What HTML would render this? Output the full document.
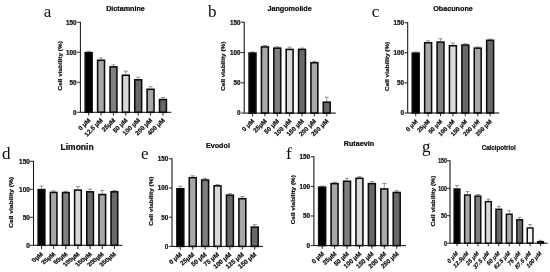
<!DOCTYPE html>
<html><head><meta charset="utf-8"><title>Cell viability</title>
<style>html,body{margin:0;padding:0;background:#fff;}body{width:550px;height:272px;overflow:hidden;}svg{display:block;}</style>
</head><body>
<svg width="550" height="272" viewBox="0 0 550 272">
<defs><filter id="soft" x="-5%" y="-5%" width="110%" height="110%"><feGaussianBlur stdDeviation="0.3"/></filter></defs>
<g filter="url(#soft)">
<g><text transform="translate(43.8 16.5)" font-family='"Liberation Serif", "Times New Roman", serif' font-size="17" text-anchor="start" fill="#0a0a0a">a</text>
<text transform="translate(125.5 11.3)" font-family='"Liberation Sans", Arial, sans-serif' font-weight="bold" font-size="7.2" text-anchor="middle" fill="#0a0a0a" stroke="#0a0a0a" stroke-width="0.2">Dictamnine</text>
<path d="M88.67 51.88V51.4M86.58 51.4H90.77" stroke="#444" stroke-width="0.55" fill="none"/>
<rect x="85.23" y="52.65" width="6.9" height="59.65" fill="#000000" stroke="#0a0a0a" stroke-width="1.55"/>
<path d="M88.67 112.3V115.5" stroke="#0a0a0a" stroke-width="0.9"/>
<text transform="translate(90.88 120.7) rotate(-45)" font-family='"Liberation Sans", Arial, sans-serif' font-weight="bold" font-size="6.3" text-anchor="end" fill="#0a0a0a" stroke="#0a0a0a" stroke-width="0.2">0 μM</text>
<path d="M101.05 59.5V58M98.95 58H103.15" stroke="#444" stroke-width="0.55" fill="none"/>
<rect x="97.61" y="60.27" width="6.9" height="52.02" fill="#a8a8a8" stroke="#0a0a0a" stroke-width="1.55"/>
<path d="M101.05 112.3V115.5" stroke="#0a0a0a" stroke-width="0.9"/>
<text transform="translate(103.25 120.7) rotate(-45)" font-family='"Liberation Sans", Arial, sans-serif' font-weight="bold" font-size="6.3" text-anchor="end" fill="#0a0a0a" stroke="#0a0a0a" stroke-width="0.2">12.5 μM</text>
<path d="M113.44 66.1V64.9M111.34 64.9H115.53" stroke="#444" stroke-width="0.55" fill="none"/>
<rect x="109.99" y="66.88" width="6.9" height="45.43" fill="#7f7f7f" stroke="#0a0a0a" stroke-width="1.55"/>
<path d="M113.44 112.3V115.5" stroke="#0a0a0a" stroke-width="0.9"/>
<text transform="translate(115.64 120.7) rotate(-45)" font-family='"Liberation Sans", Arial, sans-serif' font-weight="bold" font-size="6.3" text-anchor="end" fill="#0a0a0a" stroke="#0a0a0a" stroke-width="0.2">25μM</text>
<path d="M125.81 74.5V71.2M123.72 71.2H127.91" stroke="#444" stroke-width="0.55" fill="none"/>
<rect x="122.37" y="75.28" width="6.9" height="37.02" fill="#d9d9d9" stroke="#0a0a0a" stroke-width="1.55"/>
<path d="M125.81 112.3V115.5" stroke="#0a0a0a" stroke-width="0.9"/>
<text transform="translate(128.01 120.7) rotate(-45)" font-family='"Liberation Sans", Arial, sans-serif' font-weight="bold" font-size="6.3" text-anchor="end" fill="#0a0a0a" stroke="#0a0a0a" stroke-width="0.2">50 μM</text>
<path d="M138.19 79V77.2M136.09 77.2H140.29" stroke="#444" stroke-width="0.55" fill="none"/>
<rect x="134.75" y="79.78" width="6.9" height="32.52" fill="#686868" stroke="#0a0a0a" stroke-width="1.55"/>
<path d="M138.19 112.3V115.5" stroke="#0a0a0a" stroke-width="0.9"/>
<text transform="translate(140.39 120.7) rotate(-45)" font-family='"Liberation Sans", Arial, sans-serif' font-weight="bold" font-size="6.3" text-anchor="end" fill="#0a0a0a" stroke="#0a0a0a" stroke-width="0.2">100 μM</text>
<path d="M150.58 88.54V86.74M148.48 86.74H152.68" stroke="#444" stroke-width="0.55" fill="none"/>
<rect x="147.13" y="89.31" width="6.9" height="22.99" fill="#a8a8a8" stroke="#0a0a0a" stroke-width="1.55"/>
<path d="M150.58 112.3V115.5" stroke="#0a0a0a" stroke-width="0.9"/>
<text transform="translate(152.78 120.7) rotate(-45)" font-family='"Liberation Sans", Arial, sans-serif' font-weight="bold" font-size="6.3" text-anchor="end" fill="#0a0a0a" stroke="#0a0a0a" stroke-width="0.2">200 μM</text>
<path d="M162.96 98.8V97.6M160.86 97.6H165.06" stroke="#444" stroke-width="0.55" fill="none"/>
<rect x="159.51" y="99.58" width="6.9" height="12.72" fill="#686868" stroke="#0a0a0a" stroke-width="1.55"/>
<path d="M162.96 112.3V115.5" stroke="#0a0a0a" stroke-width="0.9"/>
<text transform="translate(165.16 120.7) rotate(-45)" font-family='"Liberation Sans", Arial, sans-serif' font-weight="bold" font-size="6.3" text-anchor="end" fill="#0a0a0a" stroke="#0a0a0a" stroke-width="0.2">400 μM</text>
<path d="M80.4 21.85V112.3H171.3" stroke="#0a0a0a" stroke-width="1" fill="none"/>
<path d="M77.2 112.3H80.4" stroke="#0a0a0a" stroke-width="0.9"/>
<text transform="translate(76.6 114.67)" font-family='"Liberation Sans", Arial, sans-serif' font-weight="bold" font-size="6.3" text-anchor="end" fill="#0a0a0a" stroke="#0a0a0a" stroke-width="0.2">0</text>
<path d="M77.2 82.3H80.4" stroke="#0a0a0a" stroke-width="0.9"/>
<text transform="translate(76.6 84.67)" font-family='"Liberation Sans", Arial, sans-serif' font-weight="bold" font-size="6.3" text-anchor="end" fill="#0a0a0a" stroke="#0a0a0a" stroke-width="0.2">50</text>
<path d="M77.2 52.3H80.4" stroke="#0a0a0a" stroke-width="0.9"/>
<text transform="translate(76.6 54.67)" font-family='"Liberation Sans", Arial, sans-serif' font-weight="bold" font-size="6.3" text-anchor="end" fill="#0a0a0a" stroke="#0a0a0a" stroke-width="0.2">100</text>
<path d="M77.2 22.3H80.4" stroke="#0a0a0a" stroke-width="0.9"/>
<text transform="translate(76.6 24.67)" font-family='"Liberation Sans", Arial, sans-serif' font-weight="bold" font-size="6.3" text-anchor="end" fill="#0a0a0a" stroke="#0a0a0a" stroke-width="0.2">150</text>
<text transform="translate(61.5 65.8) scale(0.78 1) rotate(-90)" font-family='"Liberation Sans", Arial, sans-serif' font-weight="bold" font-size="6.43" text-anchor="middle" fill="#0a0a0a" stroke="#0a0a0a" stroke-width="0.2">Cell viability (%)</text></g>
<g><text transform="translate(208 16.5)" font-family='"Liberation Serif", "Times New Roman", serif' font-size="17" text-anchor="start" fill="#0a0a0a">b</text>
<text transform="translate(289.6 11.3)" font-family='"Liberation Sans", Arial, sans-serif' font-weight="bold" font-size="7.2" text-anchor="middle" fill="#0a0a0a" stroke="#0a0a0a" stroke-width="0.2">Jangomolide</text>
<path d="M252.53 52.26V51.96M250.43 51.96H254.62" stroke="#444" stroke-width="0.55" fill="none"/>
<rect x="249.08" y="53.04" width="6.9" height="60.06" fill="#000000" stroke="#0a0a0a" stroke-width="1.55"/>
<path d="M252.53 113.1V116.3" stroke="#0a0a0a" stroke-width="0.9"/>
<text transform="translate(254.72 121.5) rotate(-45)" font-family='"Liberation Sans", Arial, sans-serif' font-weight="bold" font-size="6.3" text-anchor="end" fill="#0a0a0a" stroke="#0a0a0a" stroke-width="0.2">0 μM</text>
<path d="M264.9 46.15V45.54M262.8 45.54H267" stroke="#444" stroke-width="0.55" fill="none"/>
<rect x="261.44" y="46.93" width="6.9" height="66.17" fill="#a8a8a8" stroke="#0a0a0a" stroke-width="1.55"/>
<path d="M264.9 113.1V116.3" stroke="#0a0a0a" stroke-width="0.9"/>
<text transform="translate(267.1 121.5) rotate(-45)" font-family='"Liberation Sans", Arial, sans-serif' font-weight="bold" font-size="6.3" text-anchor="end" fill="#0a0a0a" stroke="#0a0a0a" stroke-width="0.2">25μM</text>
<path d="M277.27 47.36V46.76M275.17 46.76H279.37" stroke="#444" stroke-width="0.55" fill="none"/>
<rect x="273.81" y="48.14" width="6.9" height="64.96" fill="#7f7f7f" stroke="#0a0a0a" stroke-width="1.55"/>
<path d="M277.27 113.1V116.3" stroke="#0a0a0a" stroke-width="0.9"/>
<text transform="translate(279.47 121.5) rotate(-45)" font-family='"Liberation Sans", Arial, sans-serif' font-weight="bold" font-size="6.3" text-anchor="end" fill="#0a0a0a" stroke="#0a0a0a" stroke-width="0.2">50 μM</text>
<path d="M289.64 48.63V47.12M287.54 47.12H291.74" stroke="#444" stroke-width="0.55" fill="none"/>
<rect x="286.19" y="49.41" width="6.9" height="63.69" fill="#d9d9d9" stroke="#0a0a0a" stroke-width="1.55"/>
<path d="M289.64 113.1V116.3" stroke="#0a0a0a" stroke-width="0.9"/>
<text transform="translate(291.84 121.5) rotate(-45)" font-family='"Liberation Sans", Arial, sans-serif' font-weight="bold" font-size="6.3" text-anchor="end" fill="#0a0a0a" stroke="#0a0a0a" stroke-width="0.2">100 μM</text>
<path d="M302.01 48.63V48.03M299.91 48.03H304.11" stroke="#444" stroke-width="0.55" fill="none"/>
<rect x="298.56" y="49.41" width="6.9" height="63.69" fill="#686868" stroke="#0a0a0a" stroke-width="1.55"/>
<path d="M302.01 113.1V116.3" stroke="#0a0a0a" stroke-width="0.9"/>
<text transform="translate(304.21 121.5) rotate(-45)" font-family='"Liberation Sans", Arial, sans-serif' font-weight="bold" font-size="6.3" text-anchor="end" fill="#0a0a0a" stroke="#0a0a0a" stroke-width="0.2">150 μM</text>
<path d="M314.38 61.95V61.34M312.27 61.34H316.48" stroke="#444" stroke-width="0.55" fill="none"/>
<rect x="310.92" y="62.72" width="6.9" height="50.38" fill="#a8a8a8" stroke="#0a0a0a" stroke-width="1.55"/>
<path d="M314.38 113.1V116.3" stroke="#0a0a0a" stroke-width="0.9"/>
<text transform="translate(316.57 121.5) rotate(-45)" font-family='"Liberation Sans", Arial, sans-serif' font-weight="bold" font-size="6.3" text-anchor="end" fill="#0a0a0a" stroke="#0a0a0a" stroke-width="0.2">200 μM</text>
<path d="M326.75 101.42V97.18M324.64 97.18H328.85" stroke="#444" stroke-width="0.55" fill="none"/>
<rect x="323.29" y="102.19" width="6.9" height="10.91" fill="#686868" stroke="#0a0a0a" stroke-width="1.55"/>
<path d="M326.75 113.1V116.3" stroke="#0a0a0a" stroke-width="0.9"/>
<text transform="translate(328.94 121.5) rotate(-45)" font-family='"Liberation Sans", Arial, sans-serif' font-weight="bold" font-size="6.3" text-anchor="end" fill="#0a0a0a" stroke="#0a0a0a" stroke-width="0.2">250 μM</text>
<path d="M244.2 21.85V113.1H335.8" stroke="#0a0a0a" stroke-width="1" fill="none"/>
<path d="M241 113.1H244.2" stroke="#0a0a0a" stroke-width="0.9"/>
<text transform="translate(240.4 115.47)" font-family='"Liberation Sans", Arial, sans-serif' font-weight="bold" font-size="6.3" text-anchor="end" fill="#0a0a0a" stroke="#0a0a0a" stroke-width="0.2">0</text>
<path d="M241 82.83H244.2" stroke="#0a0a0a" stroke-width="0.9"/>
<text transform="translate(240.4 85.2)" font-family='"Liberation Sans", Arial, sans-serif' font-weight="bold" font-size="6.3" text-anchor="end" fill="#0a0a0a" stroke="#0a0a0a" stroke-width="0.2">50</text>
<path d="M241 52.57H244.2" stroke="#0a0a0a" stroke-width="0.9"/>
<text transform="translate(240.4 54.93)" font-family='"Liberation Sans", Arial, sans-serif' font-weight="bold" font-size="6.3" text-anchor="end" fill="#0a0a0a" stroke="#0a0a0a" stroke-width="0.2">100</text>
<path d="M241 22.3H244.2" stroke="#0a0a0a" stroke-width="0.9"/>
<text transform="translate(240.4 24.67)" font-family='"Liberation Sans", Arial, sans-serif' font-weight="bold" font-size="6.3" text-anchor="end" fill="#0a0a0a" stroke="#0a0a0a" stroke-width="0.2">150</text>
<text transform="translate(225.3 66.2) scale(0.78 1) rotate(-90)" font-family='"Liberation Sans", Arial, sans-serif' font-weight="bold" font-size="6.43" text-anchor="middle" fill="#0a0a0a" stroke="#0a0a0a" stroke-width="0.2">Cell viability (%)</text></g>
<g><text transform="translate(371.8 16.5)" font-family='"Liberation Serif", "Times New Roman", serif' font-size="17" text-anchor="start" fill="#0a0a0a">c</text>
<text transform="translate(453 11.3)" font-family='"Liberation Sans", Arial, sans-serif' font-weight="bold" font-size="7.2" text-anchor="middle" fill="#0a0a0a" stroke="#0a0a0a" stroke-width="0.2">Obacunone</text>
<path d="M415.73 52.32V52.02M413.62 52.02H417.83" stroke="#444" stroke-width="0.55" fill="none"/>
<rect x="412.27" y="53.09" width="6.9" height="59.91" fill="#000000" stroke="#0a0a0a" stroke-width="1.55"/>
<path d="M415.73 113V116.2" stroke="#0a0a0a" stroke-width="0.9"/>
<text transform="translate(417.93 122) rotate(-45)" font-family='"Liberation Sans", Arial, sans-serif' font-weight="bold" font-size="6" text-anchor="end" fill="#0a0a0a" stroke="#0a0a0a" stroke-width="0.2">0 μM</text>
<path d="M428.12 41.96V40.76M426.02 40.76H430.23" stroke="#444" stroke-width="0.55" fill="none"/>
<rect x="424.67" y="42.74" width="6.9" height="70.26" fill="#a8a8a8" stroke="#0a0a0a" stroke-width="1.55"/>
<path d="M428.12 113V116.2" stroke="#0a0a0a" stroke-width="0.9"/>
<text transform="translate(430.32 122) rotate(-45)" font-family='"Liberation Sans", Arial, sans-serif' font-weight="bold" font-size="6" text-anchor="end" fill="#0a0a0a" stroke="#0a0a0a" stroke-width="0.2">25μM</text>
<path d="M440.53 41.36V38.77M438.43 38.77H442.63" stroke="#444" stroke-width="0.55" fill="none"/>
<rect x="437.07" y="42.14" width="6.9" height="70.86" fill="#7f7f7f" stroke="#0a0a0a" stroke-width="1.55"/>
<path d="M440.53 113V116.2" stroke="#0a0a0a" stroke-width="0.9"/>
<text transform="translate(442.73 122) rotate(-45)" font-family='"Liberation Sans", Arial, sans-serif' font-weight="bold" font-size="6" text-anchor="end" fill="#0a0a0a" stroke="#0a0a0a" stroke-width="0.2">50 μM</text>
<path d="M452.93 44.97V43.17M450.82 43.17H455.03" stroke="#444" stroke-width="0.55" fill="none"/>
<rect x="449.47" y="45.75" width="6.9" height="67.25" fill="#d9d9d9" stroke="#0a0a0a" stroke-width="1.55"/>
<path d="M452.93 113V116.2" stroke="#0a0a0a" stroke-width="0.9"/>
<text transform="translate(455.12 122) rotate(-45)" font-family='"Liberation Sans", Arial, sans-serif' font-weight="bold" font-size="6" text-anchor="end" fill="#0a0a0a" stroke="#0a0a0a" stroke-width="0.2">100 μM</text>
<path d="M465.33 44.25V43.77M463.23 43.77H467.43" stroke="#444" stroke-width="0.55" fill="none"/>
<rect x="461.88" y="45.03" width="6.9" height="67.97" fill="#686868" stroke="#0a0a0a" stroke-width="1.55"/>
<path d="M465.33 113V116.2" stroke="#0a0a0a" stroke-width="0.9"/>
<text transform="translate(467.53 122) rotate(-45)" font-family='"Liberation Sans", Arial, sans-serif' font-weight="bold" font-size="6" text-anchor="end" fill="#0a0a0a" stroke="#0a0a0a" stroke-width="0.2">150 μM</text>
<path d="M477.73 47.38V46.9M475.62 46.9H479.83" stroke="#444" stroke-width="0.55" fill="none"/>
<rect x="474.27" y="48.16" width="6.9" height="64.84" fill="#a8a8a8" stroke="#0a0a0a" stroke-width="1.55"/>
<path d="M477.73 113V116.2" stroke="#0a0a0a" stroke-width="0.9"/>
<text transform="translate(479.93 122) rotate(-45)" font-family='"Liberation Sans", Arial, sans-serif' font-weight="bold" font-size="6" text-anchor="end" fill="#0a0a0a" stroke="#0a0a0a" stroke-width="0.2">200 μM</text>
<path d="M490.12 39.56V39.07M488.02 39.07H492.23" stroke="#444" stroke-width="0.55" fill="none"/>
<rect x="486.67" y="40.33" width="6.9" height="72.67" fill="#686868" stroke="#0a0a0a" stroke-width="1.55"/>
<path d="M490.12 113V116.2" stroke="#0a0a0a" stroke-width="0.9"/>
<text transform="translate(492.32 122) rotate(-45)" font-family='"Liberation Sans", Arial, sans-serif' font-weight="bold" font-size="6" text-anchor="end" fill="#0a0a0a" stroke="#0a0a0a" stroke-width="0.2">250 μM</text>
<path d="M407.7 22.25V113H499.3" stroke="#0a0a0a" stroke-width="1" fill="none"/>
<path d="M404.5 113H407.7" stroke="#0a0a0a" stroke-width="0.9"/>
<text transform="translate(403.9 115.37)" font-family='"Liberation Sans", Arial, sans-serif' font-weight="bold" font-size="6.3" text-anchor="end" fill="#0a0a0a" stroke="#0a0a0a" stroke-width="0.2">0</text>
<path d="M404.5 82.9H407.7" stroke="#0a0a0a" stroke-width="0.9"/>
<text transform="translate(403.9 85.27)" font-family='"Liberation Sans", Arial, sans-serif' font-weight="bold" font-size="6.3" text-anchor="end" fill="#0a0a0a" stroke="#0a0a0a" stroke-width="0.2">50</text>
<path d="M404.5 52.8H407.7" stroke="#0a0a0a" stroke-width="0.9"/>
<text transform="translate(403.9 55.17)" font-family='"Liberation Sans", Arial, sans-serif' font-weight="bold" font-size="6.3" text-anchor="end" fill="#0a0a0a" stroke="#0a0a0a" stroke-width="0.2">100</text>
<path d="M404.5 22.7H407.7" stroke="#0a0a0a" stroke-width="0.9"/>
<text transform="translate(403.9 25.07)" font-family='"Liberation Sans", Arial, sans-serif' font-weight="bold" font-size="6.3" text-anchor="end" fill="#0a0a0a" stroke="#0a0a0a" stroke-width="0.2">150</text>
<text transform="translate(388.8 66.35) scale(0.78 1) rotate(-90)" font-family='"Liberation Sans", Arial, sans-serif' font-weight="bold" font-size="6.43" text-anchor="middle" fill="#0a0a0a" stroke="#0a0a0a" stroke-width="0.2">Cell viability (%)</text></g>
<g><text transform="translate(2 159)" font-family='"Liberation Serif", "Times New Roman", serif' font-size="17" text-anchor="start" fill="#0a0a0a">d</text>
<text transform="translate(77.1 149.8)" font-family='"Liberation Sans", Arial, sans-serif' font-weight="bold" font-size="8.5" text-anchor="middle" fill="#0a0a0a" stroke="#0a0a0a" stroke-width="0.2">Limonin</text>
<path d="M41.5 188.8V186M39.4 186H43.6" stroke="#444" stroke-width="0.55" fill="none"/>
<rect x="38.17" y="189.57" width="6.65" height="55.73" fill="#000000" stroke="#0a0a0a" stroke-width="1.55"/>
<path d="M41.5 245.3V249.1" stroke="#0a0a0a" stroke-width="0.9"/>
<text transform="translate(43.8 254.7) scale(1.1 0.9) rotate(-45)" font-family='"Liberation Sans", Arial, sans-serif' font-weight="bold" font-size="6.1" text-anchor="end" fill="#0a0a0a" stroke="#0a0a0a" stroke-width="0.2">0μM</text>
<path d="M53.65 191.65V190.81M51.55 190.81H55.75" stroke="#444" stroke-width="0.55" fill="none"/>
<rect x="50.32" y="192.43" width="6.65" height="52.87" fill="#a8a8a8" stroke="#0a0a0a" stroke-width="1.55"/>
<path d="M53.65 245.3V249.1" stroke="#0a0a0a" stroke-width="0.9"/>
<text transform="translate(55.95 254.7) scale(1.1 0.9) rotate(-45)" font-family='"Liberation Sans", Arial, sans-serif' font-weight="bold" font-size="6.1" text-anchor="end" fill="#0a0a0a" stroke="#0a0a0a" stroke-width="0.2">25μM</text>
<path d="M65.8 191.82V191.26M63.7 191.26H67.9" stroke="#444" stroke-width="0.55" fill="none"/>
<rect x="62.48" y="192.59" width="6.65" height="52.71" fill="#7f7f7f" stroke="#0a0a0a" stroke-width="1.55"/>
<path d="M65.8 245.3V249.1" stroke="#0a0a0a" stroke-width="0.9"/>
<text transform="translate(68.1 254.7) scale(1.1 0.9) rotate(-45)" font-family='"Liberation Sans", Arial, sans-serif' font-weight="bold" font-size="6.1" text-anchor="end" fill="#0a0a0a" stroke="#0a0a0a" stroke-width="0.2">50μM</text>
<path d="M77.95 189.36V186.56M75.85 186.56H80.05" stroke="#444" stroke-width="0.55" fill="none"/>
<rect x="74.62" y="190.13" width="6.65" height="55.17" fill="#d9d9d9" stroke="#0a0a0a" stroke-width="1.55"/>
<path d="M77.95 245.3V249.1" stroke="#0a0a0a" stroke-width="0.9"/>
<text transform="translate(80.25 254.7) scale(1.1 0.9) rotate(-45)" font-family='"Liberation Sans", Arial, sans-serif' font-weight="bold" font-size="6.1" text-anchor="end" fill="#0a0a0a" stroke="#0a0a0a" stroke-width="0.2">100μM</text>
<path d="M90.1 191.04V189.08M88 189.08H92.2" stroke="#444" stroke-width="0.55" fill="none"/>
<rect x="86.78" y="191.81" width="6.65" height="53.49" fill="#686868" stroke="#0a0a0a" stroke-width="1.55"/>
<path d="M90.1 245.3V249.1" stroke="#0a0a0a" stroke-width="0.9"/>
<text transform="translate(92.4 254.7) scale(1.1 0.9) rotate(-45)" font-family='"Liberation Sans", Arial, sans-serif' font-weight="bold" font-size="6.1" text-anchor="end" fill="#0a0a0a" stroke="#0a0a0a" stroke-width="0.2">150μM</text>
<path d="M102.25 193.78V190.42M100.15 190.42H104.35" stroke="#444" stroke-width="0.55" fill="none"/>
<rect x="98.93" y="194.56" width="6.65" height="50.75" fill="#a8a8a8" stroke="#0a0a0a" stroke-width="1.55"/>
<path d="M102.25 245.3V249.1" stroke="#0a0a0a" stroke-width="0.9"/>
<text transform="translate(104.55 254.7) scale(1.1 0.9) rotate(-45)" font-family='"Liberation Sans", Arial, sans-serif' font-weight="bold" font-size="6.1" text-anchor="end" fill="#0a0a0a" stroke="#0a0a0a" stroke-width="0.2">200μM</text>
<path d="M114.4 191.04V190.36M112.3 190.36H116.5" stroke="#444" stroke-width="0.55" fill="none"/>
<rect x="111.08" y="191.81" width="6.65" height="53.49" fill="#686868" stroke="#0a0a0a" stroke-width="1.55"/>
<path d="M114.4 245.3V249.1" stroke="#0a0a0a" stroke-width="0.9"/>
<text transform="translate(116.7 254.7) scale(1.1 0.9) rotate(-45)" font-family='"Liberation Sans", Arial, sans-serif' font-weight="bold" font-size="6.1" text-anchor="end" fill="#0a0a0a" stroke="#0a0a0a" stroke-width="0.2">250μM</text>
<path d="M33.5 160.85V245.3H122.5" stroke="#0a0a0a" stroke-width="1" fill="none"/>
<path d="M29.7 245.3H33.5" stroke="#0a0a0a" stroke-width="0.9"/>
<text transform="translate(29.9 247.74)" font-family='"Liberation Sans", Arial, sans-serif' font-weight="bold" font-size="6.5" text-anchor="end" fill="#0a0a0a" stroke="#0a0a0a" stroke-width="0.2">0</text>
<path d="M29.7 217.3H33.5" stroke="#0a0a0a" stroke-width="0.9"/>
<text transform="translate(29.9 219.74)" font-family='"Liberation Sans", Arial, sans-serif' font-weight="bold" font-size="6.5" text-anchor="end" fill="#0a0a0a" stroke="#0a0a0a" stroke-width="0.2">50</text>
<path d="M29.7 189.3H33.5" stroke="#0a0a0a" stroke-width="0.9"/>
<text transform="translate(29.9 191.74)" font-family='"Liberation Sans", Arial, sans-serif' font-weight="bold" font-size="6.5" text-anchor="end" fill="#0a0a0a" stroke="#0a0a0a" stroke-width="0.2">100</text>
<path d="M29.7 161.3H33.5" stroke="#0a0a0a" stroke-width="0.9"/>
<text transform="translate(29.9 163.74)" font-family='"Liberation Sans", Arial, sans-serif' font-weight="bold" font-size="6.5" text-anchor="end" fill="#0a0a0a" stroke="#0a0a0a" stroke-width="0.2">150</text>
<text transform="translate(12.6 202.4) scale(0.9 1) rotate(-90)" font-family='"Liberation Sans", Arial, sans-serif' font-weight="bold" font-size="6.63" text-anchor="middle" fill="#0a0a0a" stroke="#0a0a0a" stroke-width="0.2">Cell viability (%)</text></g>
<g><text transform="translate(141 159)" font-family='"Liberation Serif", "Times New Roman", serif' font-size="17" text-anchor="start" fill="#0a0a0a">e</text>
<text transform="translate(217.9 148)" font-family='"Liberation Sans", Arial, sans-serif' font-weight="bold" font-size="7.2" text-anchor="middle" fill="#0a0a0a" stroke="#0a0a0a" stroke-width="0.2">Evodol</text>
<path d="M180.32 188V186.25M178.22 186.25H182.42" stroke="#444" stroke-width="0.55" fill="none"/>
<rect x="176.88" y="188.78" width="6.9" height="57.63" fill="#000000" stroke="#0a0a0a" stroke-width="1.55"/>
<path d="M180.32 246.4V249.6" stroke="#0a0a0a" stroke-width="0.9"/>
<text transform="translate(182.32 255.4) rotate(-39.5)" font-family='"Liberation Sans", Arial, sans-serif' font-weight="bold" font-size="6.3" text-anchor="end" fill="#0a0a0a" stroke="#0a0a0a" stroke-width="0.2">0 μM</text>
<path d="M192.72 176.9V175.74M190.62 175.74H194.82" stroke="#444" stroke-width="0.55" fill="none"/>
<rect x="189.28" y="177.68" width="6.9" height="68.72" fill="#a8a8a8" stroke="#0a0a0a" stroke-width="1.55"/>
<path d="M192.72 246.4V249.6" stroke="#0a0a0a" stroke-width="0.9"/>
<text transform="translate(194.72 255.4) rotate(-39.5)" font-family='"Liberation Sans", Arial, sans-serif' font-weight="bold" font-size="6.3" text-anchor="end" fill="#0a0a0a" stroke="#0a0a0a" stroke-width="0.2">25μM</text>
<path d="M205.12 179.24V178.48M203.03 178.48H207.22" stroke="#444" stroke-width="0.55" fill="none"/>
<rect x="201.68" y="180.02" width="6.9" height="66.38" fill="#7f7f7f" stroke="#0a0a0a" stroke-width="1.55"/>
<path d="M205.12 246.4V249.6" stroke="#0a0a0a" stroke-width="0.9"/>
<text transform="translate(207.12 255.4) rotate(-39.5)" font-family='"Liberation Sans", Arial, sans-serif' font-weight="bold" font-size="6.3" text-anchor="end" fill="#0a0a0a" stroke="#0a0a0a" stroke-width="0.2">50 μM</text>
<path d="M217.53 185.08V184.5M215.43 184.5H219.62" stroke="#444" stroke-width="0.55" fill="none"/>
<rect x="214.08" y="185.86" width="6.9" height="60.54" fill="#d9d9d9" stroke="#0a0a0a" stroke-width="1.55"/>
<path d="M217.53 246.4V249.6" stroke="#0a0a0a" stroke-width="0.9"/>
<text transform="translate(219.53 255.4) rotate(-39.5)" font-family='"Liberation Sans", Arial, sans-serif' font-weight="bold" font-size="6.3" text-anchor="end" fill="#0a0a0a" stroke="#0a0a0a" stroke-width="0.2">75 μM</text>
<path d="M229.92 194.42V193.66M227.82 193.66H232.02" stroke="#444" stroke-width="0.55" fill="none"/>
<rect x="226.47" y="195.2" width="6.9" height="51.2" fill="#686868" stroke="#0a0a0a" stroke-width="1.55"/>
<path d="M229.92 246.4V249.6" stroke="#0a0a0a" stroke-width="0.9"/>
<text transform="translate(231.92 255.4) rotate(-39.5)" font-family='"Liberation Sans", Arial, sans-serif' font-weight="bold" font-size="6.3" text-anchor="end" fill="#0a0a0a" stroke="#0a0a0a" stroke-width="0.2">100 μM</text>
<path d="M242.32 197.93V196.47M240.22 196.47H244.42" stroke="#444" stroke-width="0.55" fill="none"/>
<rect x="238.88" y="198.7" width="6.9" height="47.7" fill="#a8a8a8" stroke="#0a0a0a" stroke-width="1.55"/>
<path d="M242.32 246.4V249.6" stroke="#0a0a0a" stroke-width="0.9"/>
<text transform="translate(244.32 255.4) rotate(-39.5)" font-family='"Liberation Sans", Arial, sans-serif' font-weight="bold" font-size="6.3" text-anchor="end" fill="#0a0a0a" stroke="#0a0a0a" stroke-width="0.2">125 μM</text>
<path d="M254.72 226.37V224.62M252.62 224.62H256.82" stroke="#444" stroke-width="0.55" fill="none"/>
<rect x="251.28" y="227.14" width="6.9" height="19.26" fill="#686868" stroke="#0a0a0a" stroke-width="1.55"/>
<path d="M254.72 246.4V249.6" stroke="#0a0a0a" stroke-width="0.9"/>
<text transform="translate(256.73 255.4) rotate(-39.5)" font-family='"Liberation Sans", Arial, sans-serif' font-weight="bold" font-size="6.3" text-anchor="end" fill="#0a0a0a" stroke="#0a0a0a" stroke-width="0.2">150 μM</text>
<path d="M172 158.35V246.4H263" stroke="#0a0a0a" stroke-width="1" fill="none"/>
<path d="M168.8 246.4H172" stroke="#0a0a0a" stroke-width="0.9"/>
<text transform="translate(168.2 248.77)" font-family='"Liberation Sans", Arial, sans-serif' font-weight="bold" font-size="6.3" text-anchor="end" fill="#0a0a0a" stroke="#0a0a0a" stroke-width="0.2">0</text>
<path d="M168.8 217.2H172" stroke="#0a0a0a" stroke-width="0.9"/>
<text transform="translate(168.2 219.57)" font-family='"Liberation Sans", Arial, sans-serif' font-weight="bold" font-size="6.3" text-anchor="end" fill="#0a0a0a" stroke="#0a0a0a" stroke-width="0.2">50</text>
<path d="M168.8 188H172" stroke="#0a0a0a" stroke-width="0.9"/>
<text transform="translate(168.2 190.37)" font-family='"Liberation Sans", Arial, sans-serif' font-weight="bold" font-size="6.3" text-anchor="end" fill="#0a0a0a" stroke="#0a0a0a" stroke-width="0.2">100</text>
<path d="M168.8 158.8H172" stroke="#0a0a0a" stroke-width="0.9"/>
<text transform="translate(168.2 161.17)" font-family='"Liberation Sans", Arial, sans-serif' font-weight="bold" font-size="6.3" text-anchor="end" fill="#0a0a0a" stroke="#0a0a0a" stroke-width="0.2">150</text>
<text transform="translate(153.1 201.1) scale(0.78 1) rotate(-90)" font-family='"Liberation Sans", Arial, sans-serif' font-weight="bold" font-size="6.43" text-anchor="middle" fill="#0a0a0a" stroke="#0a0a0a" stroke-width="0.2">Cell viability (%)</text></g>
<g><text transform="translate(286 158.6)" font-family='"Liberation Serif", "Times New Roman", serif' font-size="17" text-anchor="start" fill="#0a0a0a">f</text>
<text transform="translate(358.9 146)" font-family='"Liberation Sans", Arial, sans-serif' font-weight="bold" font-size="7.2" text-anchor="middle" fill="#0a0a0a" stroke="#0a0a0a" stroke-width="0.2">Rutaevin</text>
<path d="M322.15 186.4V186.1M320.05 186.1H324.25" stroke="#444" stroke-width="0.55" fill="none"/>
<rect x="318.67" y="187.18" width="6.95" height="58.42" fill="#000000" stroke="#0a0a0a" stroke-width="1.55"/>
<path d="M322.15 245.6V248.8" stroke="#0a0a0a" stroke-width="0.9"/>
<text transform="translate(324.55 254.4) rotate(-42)" font-family='"Liberation Sans", Arial, sans-serif' font-weight="bold" font-size="6.3" text-anchor="end" fill="#0a0a0a" stroke="#0a0a0a" stroke-width="0.2">0 μM</text>
<path d="M334.58 182.85V182.26M332.48 182.26H336.68" stroke="#444" stroke-width="0.55" fill="none"/>
<rect x="331.1" y="183.62" width="6.95" height="61.98" fill="#a8a8a8" stroke="#0a0a0a" stroke-width="1.55"/>
<path d="M334.58 245.6V248.8" stroke="#0a0a0a" stroke-width="0.9"/>
<text transform="translate(336.98 254.4) rotate(-42)" font-family='"Liberation Sans", Arial, sans-serif' font-weight="bold" font-size="6.3" text-anchor="end" fill="#0a0a0a" stroke="#0a0a0a" stroke-width="0.2">25μM</text>
<path d="M347.01 180.48V178.23M344.91 178.23H349.11" stroke="#444" stroke-width="0.55" fill="none"/>
<rect x="343.53" y="181.26" width="6.95" height="64.34" fill="#7f7f7f" stroke="#0a0a0a" stroke-width="1.55"/>
<path d="M347.01 245.6V248.8" stroke="#0a0a0a" stroke-width="0.9"/>
<text transform="translate(349.41 254.4) rotate(-42)" font-family='"Liberation Sans", Arial, sans-serif' font-weight="bold" font-size="6.3" text-anchor="end" fill="#0a0a0a" stroke="#0a0a0a" stroke-width="0.2">50 μM</text>
<path d="M359.44 177.52V176.63M357.34 176.63H361.54" stroke="#444" stroke-width="0.55" fill="none"/>
<rect x="355.96" y="178.3" width="6.95" height="67.3" fill="#d9d9d9" stroke="#0a0a0a" stroke-width="1.55"/>
<path d="M359.44 245.6V248.8" stroke="#0a0a0a" stroke-width="0.9"/>
<text transform="translate(361.84 254.4) rotate(-42)" font-family='"Liberation Sans", Arial, sans-serif' font-weight="bold" font-size="6.3" text-anchor="end" fill="#0a0a0a" stroke="#0a0a0a" stroke-width="0.2">100 μM</text>
<path d="M371.87 182.85V181.49M369.77 181.49H373.97" stroke="#444" stroke-width="0.55" fill="none"/>
<rect x="368.39" y="183.62" width="6.95" height="61.98" fill="#686868" stroke="#0a0a0a" stroke-width="1.55"/>
<path d="M371.87 245.6V248.8" stroke="#0a0a0a" stroke-width="0.9"/>
<text transform="translate(374.27 254.4) rotate(-42)" font-family='"Liberation Sans", Arial, sans-serif' font-weight="bold" font-size="6.3" text-anchor="end" fill="#0a0a0a" stroke="#0a0a0a" stroke-width="0.2">150 μM</text>
<path d="M384.3 188.18V183.44M382.2 183.44H386.4" stroke="#444" stroke-width="0.55" fill="none"/>
<rect x="380.82" y="188.95" width="6.95" height="56.65" fill="#a8a8a8" stroke="#0a0a0a" stroke-width="1.55"/>
<path d="M384.3 245.6V248.8" stroke="#0a0a0a" stroke-width="0.9"/>
<text transform="translate(386.7 254.4) rotate(-42)" font-family='"Liberation Sans", Arial, sans-serif' font-weight="bold" font-size="6.3" text-anchor="end" fill="#0a0a0a" stroke="#0a0a0a" stroke-width="0.2">200 μM</text>
<path d="M396.73 191.73V190.66M394.63 190.66H398.83" stroke="#444" stroke-width="0.55" fill="none"/>
<rect x="393.25" y="192.5" width="6.95" height="53.1" fill="#686868" stroke="#0a0a0a" stroke-width="1.55"/>
<path d="M396.73 245.6V248.8" stroke="#0a0a0a" stroke-width="0.9"/>
<text transform="translate(399.13 254.4) rotate(-42)" font-family='"Liberation Sans", Arial, sans-serif' font-weight="bold" font-size="6.3" text-anchor="end" fill="#0a0a0a" stroke="#0a0a0a" stroke-width="0.2">250 μM</text>
<path d="M313.9 156.35V245.6H406" stroke="#0a0a0a" stroke-width="1" fill="none"/>
<path d="M310.7 245.6H313.9" stroke="#0a0a0a" stroke-width="0.9"/>
<text transform="translate(310.1 247.97)" font-family='"Liberation Sans", Arial, sans-serif' font-weight="bold" font-size="6.3" text-anchor="end" fill="#0a0a0a" stroke="#0a0a0a" stroke-width="0.2">0</text>
<path d="M310.7 216H313.9" stroke="#0a0a0a" stroke-width="0.9"/>
<text transform="translate(310.1 218.37)" font-family='"Liberation Sans", Arial, sans-serif' font-weight="bold" font-size="6.3" text-anchor="end" fill="#0a0a0a" stroke="#0a0a0a" stroke-width="0.2">50</text>
<path d="M310.7 186.4H313.9" stroke="#0a0a0a" stroke-width="0.9"/>
<text transform="translate(310.1 188.77)" font-family='"Liberation Sans", Arial, sans-serif' font-weight="bold" font-size="6.3" text-anchor="end" fill="#0a0a0a" stroke="#0a0a0a" stroke-width="0.2">100</text>
<path d="M310.7 156.8H313.9" stroke="#0a0a0a" stroke-width="0.9"/>
<text transform="translate(310.1 159.17)" font-family='"Liberation Sans", Arial, sans-serif' font-weight="bold" font-size="6.3" text-anchor="end" fill="#0a0a0a" stroke="#0a0a0a" stroke-width="0.2">150</text>
<text transform="translate(295 199.7) scale(0.78 1) rotate(-90)" font-family='"Liberation Sans", Arial, sans-serif' font-weight="bold" font-size="6.43" text-anchor="middle" fill="#0a0a0a" stroke="#0a0a0a" stroke-width="0.2">Cell viability (%)</text></g>
<g><text transform="translate(422 152.4)" font-family='"Liberation Serif", "Times New Roman", serif' font-size="17" text-anchor="start" fill="#0a0a0a">g</text>
<text transform="translate(498.7 149.8) scale(0.8 1)" font-family='"Liberation Sans", Arial, sans-serif' font-weight="bold" font-size="7.75" text-anchor="middle" fill="#0a0a0a" stroke="#0a0a0a" stroke-width="0.2">Calcipotriol</text>
<path d="M457.02 188.27V185.52M455.09 185.52H458.96" stroke="#444" stroke-width="0.55" fill="none"/>
<rect x="454.16" y="188.98" width="5.72" height="54.22" fill="#000000" stroke="#0a0a0a" stroke-width="1.43"/>
<path d="M457.02 243.2V246.14" stroke="#0a0a0a" stroke-width="0.9"/>
<text transform="translate(458.22 254) scale(0.8 1) rotate(-41)" font-family='"Liberation Sans", Arial, sans-serif' font-weight="bold" font-size="6.5" text-anchor="end" fill="#0a0a0a" stroke="#0a0a0a" stroke-width="0.2">0 μM</text>
<path d="M467.46 194.31V191.56M465.53 191.56H469.4" stroke="#444" stroke-width="0.55" fill="none"/>
<rect x="464.6" y="195.02" width="5.72" height="48.18" fill="#a8a8a8" stroke="#0a0a0a" stroke-width="1.43"/>
<path d="M467.46 243.2V246.14" stroke="#0a0a0a" stroke-width="0.9"/>
<text transform="translate(468.66 254) scale(0.8 1) rotate(-41)" font-family='"Liberation Sans", Arial, sans-serif' font-weight="bold" font-size="6.5" text-anchor="end" fill="#0a0a0a" stroke="#0a0a0a" stroke-width="0.2">12.5μM</text>
<path d="M477.9 195.41V194.58M475.97 194.58H479.84" stroke="#444" stroke-width="0.55" fill="none"/>
<rect x="475.04" y="196.12" width="5.72" height="47.08" fill="#7f7f7f" stroke="#0a0a0a" stroke-width="1.43"/>
<path d="M477.9 243.2V246.14" stroke="#0a0a0a" stroke-width="0.9"/>
<text transform="translate(479.1 254) scale(0.8 1) rotate(-41)" font-family='"Liberation Sans", Arial, sans-serif' font-weight="bold" font-size="6.5" text-anchor="end" fill="#0a0a0a" stroke="#0a0a0a" stroke-width="0.2">25 μM</text>
<path d="M488.34 200.9V199.25M486.41 199.25H490.28" stroke="#444" stroke-width="0.55" fill="none"/>
<rect x="485.48" y="201.61" width="5.72" height="41.59" fill="#d9d9d9" stroke="#0a0a0a" stroke-width="1.43"/>
<path d="M488.34 243.2V246.14" stroke="#0a0a0a" stroke-width="0.9"/>
<text transform="translate(489.54 254) scale(0.8 1) rotate(-41)" font-family='"Liberation Sans", Arial, sans-serif' font-weight="bold" font-size="6.5" text-anchor="end" fill="#0a0a0a" stroke="#0a0a0a" stroke-width="0.2">37.5 μM</text>
<path d="M498.78 208.59V206.39M496.85 206.39H500.72" stroke="#444" stroke-width="0.55" fill="none"/>
<rect x="495.92" y="209.3" width="5.72" height="33.9" fill="#686868" stroke="#0a0a0a" stroke-width="1.43"/>
<path d="M498.78 243.2V246.14" stroke="#0a0a0a" stroke-width="0.9"/>
<text transform="translate(499.98 254) scale(0.8 1) rotate(-41)" font-family='"Liberation Sans", Arial, sans-serif' font-weight="bold" font-size="6.5" text-anchor="end" fill="#0a0a0a" stroke="#0a0a0a" stroke-width="0.2">50 μM</text>
<path d="M509.22 213.54V210.79M507.29 210.79H511.16" stroke="#444" stroke-width="0.55" fill="none"/>
<rect x="506.36" y="214.25" width="5.72" height="28.95" fill="#a8a8a8" stroke="#0a0a0a" stroke-width="1.43"/>
<path d="M509.22 243.2V246.14" stroke="#0a0a0a" stroke-width="0.9"/>
<text transform="translate(510.42 254) scale(0.8 1) rotate(-41)" font-family='"Liberation Sans", Arial, sans-serif' font-weight="bold" font-size="6.5" text-anchor="end" fill="#0a0a0a" stroke="#0a0a0a" stroke-width="0.2">62.5 μM</text>
<path d="M519.67 219.03V217.38M517.73 217.38H521.6" stroke="#444" stroke-width="0.55" fill="none"/>
<rect x="516.8" y="219.74" width="5.72" height="23.46" fill="#686868" stroke="#0a0a0a" stroke-width="1.43"/>
<path d="M519.67 243.2V246.14" stroke="#0a0a0a" stroke-width="0.9"/>
<text transform="translate(520.87 254) scale(0.8 1) rotate(-41)" font-family='"Liberation Sans", Arial, sans-serif' font-weight="bold" font-size="6.5" text-anchor="end" fill="#0a0a0a" stroke="#0a0a0a" stroke-width="0.2">75 μM</text>
<path d="M530.11 227.27V224.52M528.17 224.52H532.04" stroke="#444" stroke-width="0.55" fill="none"/>
<rect x="527.24" y="227.98" width="5.72" height="15.22" fill="#f2f2f2" stroke="#0a0a0a" stroke-width="1.43"/>
<path d="M530.11 243.2V246.14" stroke="#0a0a0a" stroke-width="0.9"/>
<text transform="translate(531.31 254) scale(0.8 1) rotate(-41)" font-family='"Liberation Sans", Arial, sans-serif' font-weight="bold" font-size="6.5" text-anchor="end" fill="#0a0a0a" stroke="#0a0a0a" stroke-width="0.2">87.5 μM</text>
<path d="M540.55 241V240.34M538.61 240.34H542.48" stroke="#444" stroke-width="0.55" fill="none"/>
<rect x="537.68" y="241.72" width="5.72" height="1.48" fill="#686868" stroke="#0a0a0a" stroke-width="1.43"/>
<path d="M540.55 243.2V246.14" stroke="#0a0a0a" stroke-width="0.9"/>
<text transform="translate(541.75 254) scale(0.8 1) rotate(-41)" font-family='"Liberation Sans", Arial, sans-serif' font-weight="bold" font-size="6.5" text-anchor="end" fill="#0a0a0a" stroke="#0a0a0a" stroke-width="0.2">100 μM</text>
<path d="M450 160.35V243.2H547.5" stroke="#0a0a0a" stroke-width="1" fill="none"/>
<path d="M447.06 243.2H450" stroke="#0a0a0a" stroke-width="0.9"/>
<text transform="translate(446.8 245.64) scale(0.8 1)" font-family='"Liberation Sans", Arial, sans-serif' font-weight="bold" font-size="6.5" text-anchor="end" fill="#0a0a0a" stroke="#0a0a0a" stroke-width="0.2">0</text>
<path d="M447.06 215.73H450" stroke="#0a0a0a" stroke-width="0.9"/>
<text transform="translate(446.8 218.17) scale(0.8 1)" font-family='"Liberation Sans", Arial, sans-serif' font-weight="bold" font-size="6.5" text-anchor="end" fill="#0a0a0a" stroke="#0a0a0a" stroke-width="0.2">50</text>
<path d="M447.06 188.27H450" stroke="#0a0a0a" stroke-width="0.9"/>
<text transform="translate(446.8 190.71) scale(0.8 1)" font-family='"Liberation Sans", Arial, sans-serif' font-weight="bold" font-size="6.5" text-anchor="end" fill="#0a0a0a" stroke="#0a0a0a" stroke-width="0.2">100</text>
<path d="M447.06 160.8H450" stroke="#0a0a0a" stroke-width="0.9"/>
<text transform="translate(446.8 163.24) scale(0.8 1)" font-family='"Liberation Sans", Arial, sans-serif' font-weight="bold" font-size="6.5" text-anchor="end" fill="#0a0a0a" stroke="#0a0a0a" stroke-width="0.2">150</text>
<text transform="translate(434.9 201.2) scale(0.8 1) rotate(-90)" font-family='"Liberation Sans", Arial, sans-serif' font-weight="bold" font-size="6.63" text-anchor="middle" fill="#0a0a0a" stroke="#0a0a0a" stroke-width="0.2">Cell viability (%)</text></g>
</g>
</svg>
</body></html>
